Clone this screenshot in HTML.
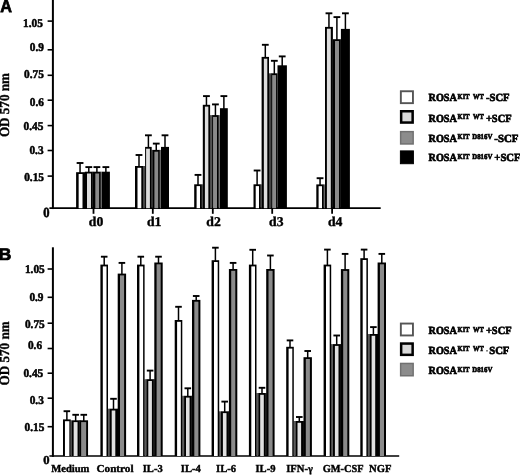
<!DOCTYPE html>
<html><head><meta charset="utf-8"><title>Figure</title>
<style>
html,body{margin:0;padding:0;background:#fff;}
body{width:520px;height:475px;overflow:hidden;font-family:"Liberation Serif",serif;}
svg{display:block;position:absolute;left:0;top:0;}
text{fill:#000;text-rendering:geometricPrecision;}
</style></head>
<body>
<svg width="520" height="475" viewBox="0 0 520 475">
<rect width="520" height="475" fill="#fff"/>
<defs><filter id="soft" x="0" y="0" width="520" height="475" filterUnits="userSpaceOnUse"><feGaussianBlur stdDeviation="0.4"/></filter></defs>
<g filter="url(#soft)">
<path d="M52.9 0V209.05" stroke="#000" stroke-width="2" fill="none"/>
<path d="M49.4 208.2H380.7" stroke="#000" stroke-width="1.7" fill="none"/>
<path d="M47.6 21.1H52.9" stroke="#000" stroke-width="1.6"/>
<text transform="translate(42.9 26.8) scale(1 1.05)" text-anchor="end" font-size="11.3" stroke="#000" stroke-width="0.5" font-family="Liberation Serif, serif" font-weight="bold" >1.05</text>
<path d="M47.6 49.8H52.9" stroke="#000" stroke-width="1.6"/>
<text transform="translate(43.9 51.3) scale(1 1.05)" text-anchor="end" font-size="11.3" stroke="#000" stroke-width="0.5" font-family="Liberation Serif, serif" font-weight="bold" >0.9</text>
<path d="M47.6 75.3H52.9" stroke="#000" stroke-width="1.6"/>
<text transform="translate(43.9 77.9) scale(1 1.05)" text-anchor="end" font-size="11.3" stroke="#000" stroke-width="0.5" font-family="Liberation Serif, serif" font-weight="bold" >0.75</text>
<path d="M47.6 100.2H52.9" stroke="#000" stroke-width="1.6"/>
<text transform="translate(43.9 105.5) scale(1 1.05)" text-anchor="end" font-size="11.3" stroke="#000" stroke-width="0.5" font-family="Liberation Serif, serif" font-weight="bold" >0.6</text>
<path d="M47.6 125.6H52.9" stroke="#000" stroke-width="1.6"/>
<text transform="translate(43.4 130.2) scale(1 1.05)" text-anchor="end" font-size="11.3" stroke="#000" stroke-width="0.5" font-family="Liberation Serif, serif" font-weight="bold" >0.45</text>
<path d="M47.6 150.5H52.9" stroke="#000" stroke-width="1.6"/>
<text transform="translate(43.6 154) scale(1 1.05)" text-anchor="end" font-size="11.3" stroke="#000" stroke-width="0.5" font-family="Liberation Serif, serif" font-weight="bold" >0.3</text>
<path d="M47.6 176.1H52.9" stroke="#000" stroke-width="1.6"/>
<text transform="translate(44 181.2) scale(1 1.05)" text-anchor="end" font-size="11.3" stroke="#000" stroke-width="0.5" font-family="Liberation Serif, serif" font-weight="bold" >0.15</text>
<text transform="translate(49.5 216.6) scale(1 1.11)" text-anchor="end" font-size="12.6" stroke="#000" stroke-width="0.5" font-family="Liberation Serif, serif" font-weight="bold" >0</text>
<path d="M80.05 173.20V163.00" stroke="#000" stroke-width="1.5" fill="none"/><path d="M76.65 163.00H83.45" stroke="#000" stroke-width="1.9" fill="none"/>
<path d="M88.80 172.70V167.10" stroke="#000" stroke-width="1.5" fill="none"/><path d="M85.40 167.10H92.20" stroke="#000" stroke-width="1.9" fill="none"/>
<path d="M96.90 172.70V167.10" stroke="#000" stroke-width="1.5" fill="none"/><path d="M93.50 167.10H100.30" stroke="#000" stroke-width="1.9" fill="none"/>
<path d="M105.88 172.70V167.10" stroke="#000" stroke-width="1.5" fill="none"/><path d="M102.47 167.10H109.28" stroke="#000" stroke-width="1.9" fill="none"/>
<rect x="83.80" y="172.20" width="1.20" height="36.00" fill="#000"/>
<rect x="92.60" y="171.70" width="0.60" height="36.50" fill="#000"/>
<rect x="100.60" y="171.70" width="1.45" height="36.50" fill="#777"/>
<rect x="76.10" y="172.20" width="7.90" height="36.00" fill="#000"/>
<rect x="78.65" y="174.00" width="3.85" height="34.20" fill="#fff"/>
<rect x="84.80" y="171.70" width="8.00" height="36.50" fill="#000"/>
<rect x="87.00" y="173.50" width="4.00" height="34.70" fill="#dcdcdc"/>
<rect x="93.00" y="171.70" width="7.80" height="36.50" fill="#000"/>
<rect x="95.30" y="173.50" width="3.80" height="34.70" fill="#8a8a8a"/>
<rect x="101.85" y="171.70" width="8.05" height="36.50" fill="#000"/>
<path d="M93.5 208.2V213.8" stroke="#000" stroke-width="1.8"/>
<text transform="translate(96.0 226.4) scale(1 0.98)" text-anchor="middle" font-size="13.7" stroke="#000" stroke-width="0.4" font-family="Liberation Serif, serif" font-weight="bold" >d0</text>
<path d="M139.00 167.00V155.00" stroke="#000" stroke-width="1.5" fill="none"/><path d="M135.60 155.00H142.40" stroke="#000" stroke-width="1.9" fill="none"/>
<path d="M148.40 147.90V135.30" stroke="#000" stroke-width="1.5" fill="none"/><path d="M145.00 135.30H151.80" stroke="#000" stroke-width="1.9" fill="none"/>
<path d="M156.25 150.90V143.60" stroke="#000" stroke-width="1.5" fill="none"/><path d="M152.85 143.60H159.65" stroke="#000" stroke-width="1.9" fill="none"/>
<path d="M165.00 147.90V135.30" stroke="#000" stroke-width="1.5" fill="none"/><path d="M161.60 135.30H168.40" stroke="#000" stroke-width="1.9" fill="none"/>
<rect x="142.80" y="166.00" width="2.50" height="42.20" fill="#444"/>
<rect x="151.50" y="149.90" width="1.40" height="58.30" fill="#333"/>
<rect x="159.60" y="149.90" width="1.60" height="58.30" fill="#666"/>
<rect x="135.00" y="166.00" width="8.00" height="42.20" fill="#000"/>
<rect x="137.50" y="167.80" width="3.80" height="40.40" fill="#fff"/>
<rect x="145.10" y="146.90" width="6.60" height="61.30" fill="#000"/>
<rect x="146.10" y="148.70" width="3.80" height="59.50" fill="#dcdcdc"/>
<rect x="152.70" y="149.90" width="7.10" height="58.30" fill="#000"/>
<rect x="154.40" y="151.70" width="3.80" height="56.50" fill="#8a8a8a"/>
<rect x="161.00" y="146.90" width="8.00" height="61.30" fill="#000"/>
<path d="M152.8 208.2V213.8" stroke="#000" stroke-width="1.8"/>
<text transform="translate(154.20000000000002 226.4) scale(1 0.98)" text-anchor="middle" font-size="13.7" stroke="#000" stroke-width="0.4" font-family="Liberation Serif, serif" font-weight="bold" >d1</text>
<path d="M198.00 185.30V174.90" stroke="#000" stroke-width="1.5" fill="none"/><path d="M194.60 174.90H201.40" stroke="#000" stroke-width="1.9" fill="none"/>
<path d="M206.45 105.80V96.10" stroke="#000" stroke-width="1.5" fill="none"/><path d="M203.05 96.10H209.85" stroke="#000" stroke-width="1.9" fill="none"/>
<path d="M215.43 116.10V104.40" stroke="#000" stroke-width="1.5" fill="none"/><path d="M212.03 104.40H218.83" stroke="#000" stroke-width="1.9" fill="none"/>
<path d="M223.88 109.20V96.10" stroke="#000" stroke-width="1.5" fill="none"/><path d="M220.47 96.10H227.28" stroke="#000" stroke-width="1.9" fill="none"/>
<rect x="201.60" y="184.30" width="1.40" height="23.90" fill="#555"/>
<rect x="209.90" y="115.10" width="2.40" height="93.10" fill="#555"/>
<rect x="218.55" y="115.10" width="1.60" height="93.10" fill="#777"/>
<rect x="194.20" y="184.30" width="7.60" height="23.90" fill="#000"/>
<rect x="196.60" y="186.10" width="3.40" height="22.10" fill="#fff"/>
<rect x="202.80" y="104.80" width="7.30" height="103.40" fill="#000"/>
<rect x="204.90" y="106.60" width="3.45" height="101.60" fill="#dcdcdc"/>
<rect x="212.10" y="115.10" width="6.65" height="93.10" fill="#000"/>
<rect x="213.05" y="116.90" width="3.95" height="91.30" fill="#8a8a8a"/>
<rect x="219.95" y="108.20" width="7.85" height="100.00" fill="#000"/>
<path d="M212.8 208.2V213.8" stroke="#000" stroke-width="1.8"/>
<text transform="translate(213.60000000000002 226.4) scale(1 0.98)" text-anchor="middle" font-size="13.7" stroke="#000" stroke-width="0.4" font-family="Liberation Serif, serif" font-weight="bold" >d2</text>
<path d="M257.10 185.30V170.50" stroke="#000" stroke-width="1.5" fill="none"/><path d="M253.70 170.50H260.50" stroke="#000" stroke-width="1.9" fill="none"/>
<path d="M265.30 57.90V44.80" stroke="#000" stroke-width="1.5" fill="none"/><path d="M261.90 44.80H268.70" stroke="#000" stroke-width="1.9" fill="none"/>
<path d="M274.32 74.30V60.80" stroke="#000" stroke-width="1.5" fill="none"/><path d="M270.93 60.80H277.72" stroke="#000" stroke-width="1.9" fill="none"/>
<path d="M282.20 66.30V56.40" stroke="#000" stroke-width="1.5" fill="none"/><path d="M278.80 56.40H285.60" stroke="#000" stroke-width="1.9" fill="none"/>
<rect x="260.50" y="184.30" width="1.30" height="23.90" fill="#555"/>
<rect x="268.80" y="73.30" width="2.55" height="134.90" fill="#444"/>
<rect x="253.50" y="184.30" width="7.20" height="23.90" fill="#000"/>
<rect x="255.70" y="186.10" width="3.30" height="22.10" fill="#fff"/>
<rect x="261.60" y="56.90" width="7.40" height="151.30" fill="#000"/>
<rect x="263.85" y="58.70" width="3.45" height="149.50" fill="#dcdcdc"/>
<rect x="271.15" y="73.30" width="6.35" height="134.90" fill="#000"/>
<rect x="272.20" y="75.10" width="3.90" height="133.10" fill="#8a8a8a"/>
<rect x="277.50" y="65.30" width="9.40" height="142.90" fill="#000"/>
<path d="M272.2 208.2V213.8" stroke="#000" stroke-width="1.8"/>
<text transform="translate(276.3 226.4) scale(1 0.98)" text-anchor="middle" font-size="13.7" stroke="#000" stroke-width="0.4" font-family="Liberation Serif, serif" font-weight="bold" >d3</text>
<path d="M320.05 185.40V178.20" stroke="#000" stroke-width="1.5" fill="none"/><path d="M316.65 178.20H323.45" stroke="#000" stroke-width="1.9" fill="none"/>
<path d="M328.95 27.90V13.30" stroke="#000" stroke-width="1.5" fill="none"/><path d="M325.55 13.30H332.35" stroke="#000" stroke-width="1.9" fill="none"/>
<path d="M336.90 40.20V17.10" stroke="#000" stroke-width="1.5" fill="none"/><path d="M333.50 17.10H340.30" stroke="#000" stroke-width="1.9" fill="none"/>
<path d="M345.40 29.90V13.30" stroke="#000" stroke-width="1.5" fill="none"/><path d="M342.00 13.30H348.80" stroke="#000" stroke-width="1.9" fill="none"/>
<rect x="323.60" y="184.40" width="1.60" height="23.80" fill="#666"/>
<rect x="316.30" y="184.40" width="7.50" height="23.80" fill="#000"/>
<rect x="318.60" y="186.20" width="3.40" height="22.00" fill="#fff"/>
<rect x="325.00" y="26.90" width="7.90" height="181.30" fill="#000"/>
<rect x="326.90" y="28.70" width="3.90" height="179.50" fill="#dcdcdc"/>
<rect x="332.90" y="39.20" width="8.00" height="169.00" fill="#000"/>
<rect x="335.00" y="41.00" width="4.00" height="167.20" fill="#8a8a8a"/>
<rect x="340.90" y="28.90" width="9.00" height="179.30" fill="#000"/>
<path d="M332.1 208.2V213.8" stroke="#000" stroke-width="1.8"/>
<text transform="translate(335.20000000000005 226.4) scale(1 0.98)" text-anchor="middle" font-size="13.7" stroke="#000" stroke-width="0.4" font-family="Liberation Serif, serif" font-weight="bold" >d4</text>
<text transform="translate(0.3 12.35) scale(1 1.08)" text-anchor="start" font-size="16.2" stroke="#000" stroke-width="0.7" font-family="Liberation Sans, sans-serif" font-weight="bold" >A</text>
<text transform="translate(-1.4 259.95) scale(1.1 1.04)" text-anchor="start" font-size="16.2" stroke="#000" stroke-width="0.7" font-family="Liberation Sans, sans-serif" font-weight="bold" >B</text>
<text transform="translate(9.1 105.1) rotate(-90) scale(1 1.06)" text-anchor="middle" font-size="13.1" stroke="#000" stroke-width="0.35" font-family="Liberation Serif, serif" font-weight="bold">OD 570 nm</text>
<text transform="translate(9.1 353.4) rotate(-90) scale(1 1.06)" text-anchor="middle" font-size="13.1" stroke="#000" stroke-width="0.35" font-family="Liberation Serif, serif" font-weight="bold">OD 570 nm</text>
<path d="M52.9 247.3V456.85" stroke="#000" stroke-width="2" fill="none"/>
<path d="M49.4 456.0H399.2" stroke="#000" stroke-width="1.7" fill="none"/>
<path d="M47.6 269.0H52.9" stroke="#000" stroke-width="1.6"/>
<text transform="translate(44.7 272.8) scale(1 1.05)" text-anchor="end" font-size="11.3" stroke="#000" stroke-width="0.5" font-family="Liberation Serif, serif" font-weight="bold" >1.05</text>
<path d="M47.6 297.3H52.9" stroke="#000" stroke-width="1.6"/>
<text transform="translate(43.5 300.5) scale(1 1.05)" text-anchor="end" font-size="11.3" stroke="#000" stroke-width="0.5" font-family="Liberation Serif, serif" font-weight="bold" >0.9</text>
<path d="M47.6 323.2H52.9" stroke="#000" stroke-width="1.6"/>
<text transform="translate(44.7 327.5) scale(1 1.05)" text-anchor="end" font-size="11.3" stroke="#000" stroke-width="0.5" font-family="Liberation Serif, serif" font-weight="bold" >0.75</text>
<path d="M47.6 348.5H52.9" stroke="#000" stroke-width="1.6"/>
<text transform="translate(42.1 348.9) scale(1 1.05)" text-anchor="end" font-size="11.3" stroke="#000" stroke-width="0.5" font-family="Liberation Serif, serif" font-weight="bold" >0.6</text>
<path d="M47.6 373.2H52.9" stroke="#000" stroke-width="1.6"/>
<text transform="translate(43.2 376.7) scale(1 1.05)" text-anchor="end" font-size="11.3" stroke="#000" stroke-width="0.5" font-family="Liberation Serif, serif" font-weight="bold" >0.45</text>
<path d="M47.6 398.2H52.9" stroke="#000" stroke-width="1.6"/>
<text transform="translate(43.8 403.5) scale(1 1.05)" text-anchor="end" font-size="11.3" stroke="#000" stroke-width="0.5" font-family="Liberation Serif, serif" font-weight="bold" >0.3</text>
<path d="M47.6 426.7H52.9" stroke="#000" stroke-width="1.6"/>
<text transform="translate(44.3 430.8) scale(1 1.05)" text-anchor="end" font-size="11.3" stroke="#000" stroke-width="0.5" font-family="Liberation Serif, serif" font-weight="bold" >0.15</text>
<text transform="translate(49.6 464.3) scale(1 0.97)" text-anchor="end" font-size="12.6" stroke="#000" stroke-width="0.5" font-family="Liberation Serif, serif" font-weight="bold" >0</text>
<path d="M66.88 420.40V411.20" stroke="#000" stroke-width="1.5" fill="none"/><path d="M63.58 411.20H70.17" stroke="#000" stroke-width="1.9" fill="none"/>
<path d="M75.65 421.30V414.80" stroke="#000" stroke-width="1.5" fill="none"/><path d="M72.35 414.80H78.95" stroke="#000" stroke-width="1.9" fill="none"/>
<path d="M83.78 421.30V414.80" stroke="#000" stroke-width="1.5" fill="none"/><path d="M80.48 414.80H87.08" stroke="#000" stroke-width="1.9" fill="none"/>
<rect x="70.60" y="420.30" width="1.4" height="35.70" fill="#5c5c5c"/>
<rect x="79.40" y="420.30" width="1.2" height="35.70" fill="#000"/>
<rect x="63.00" y="419.40" width="7.75" height="36.60" fill="#000"/>
<rect x="64.95" y="421.20" width="4.40" height="34.80" fill="#fff"/>
<rect x="71.80" y="420.30" width="7.70" height="35.70" fill="#000"/>
<rect x="73.65" y="422.10" width="3.90" height="33.90" fill="#e0e0e0"/>
<rect x="79.50" y="420.30" width="8.55" height="35.70" fill="#000"/>
<rect x="81.15" y="422.10" width="5.00" height="33.90" fill="#8a8a8a"/>
<text transform="translate(70.3 472.3) scale(1 1.0)" text-anchor="middle" font-size="10.6" stroke="#000" stroke-width="0.4" font-family="Liberation Serif, serif" font-weight="bold" >Medium</text>
<path d="M104.20 265.60V256.70" stroke="#000" stroke-width="1.5" fill="none"/><path d="M100.90 256.70H107.50" stroke="#000" stroke-width="1.9" fill="none"/>
<path d="M113.50 409.70V398.80" stroke="#000" stroke-width="1.5" fill="none"/><path d="M110.20 398.80H116.80" stroke="#000" stroke-width="1.9" fill="none"/>
<path d="M121.90 274.60V262.90" stroke="#000" stroke-width="1.5" fill="none"/><path d="M118.60 262.90H125.20" stroke="#000" stroke-width="1.9" fill="none"/>
<rect x="107.80" y="408.70" width="2.2" height="47.30" fill="#5c5c5c"/>
<rect x="116.90" y="408.70" width="1.2" height="47.30" fill="#000"/>
<rect x="100.40" y="264.60" width="7.60" height="191.40" fill="#000"/>
<rect x="102.80" y="266.40" width="3.70" height="189.60" fill="#fff"/>
<rect x="109.80" y="408.70" width="7.40" height="47.30" fill="#000"/>
<rect x="111.70" y="410.50" width="3.60" height="45.50" fill="#e0e0e0"/>
<rect x="117.70" y="273.60" width="8.40" height="182.40" fill="#000"/>
<rect x="120.00" y="275.40" width="4.10" height="180.60" fill="#8a8a8a"/>
<text transform="translate(115.0 472.3) scale(1.055 1.0)" text-anchor="middle" font-size="10.6" stroke="#000" stroke-width="0.4" font-family="Liberation Serif, serif" font-weight="bold" >Control</text>
<path d="M140.80 265.60V256.70" stroke="#000" stroke-width="1.5" fill="none"/><path d="M137.50 256.70H144.10" stroke="#000" stroke-width="1.9" fill="none"/>
<path d="M150.10 380.20V370.60" stroke="#000" stroke-width="1.5" fill="none"/><path d="M146.80 370.60H153.40" stroke="#000" stroke-width="1.9" fill="none"/>
<path d="M158.50 263.50V256.70" stroke="#000" stroke-width="1.5" fill="none"/><path d="M155.20 256.70H161.80" stroke="#000" stroke-width="1.9" fill="none"/>
<rect x="144.40" y="379.20" width="2.2" height="76.80" fill="#5c5c5c"/>
<rect x="153.50" y="379.20" width="1.2" height="76.80" fill="#000"/>
<rect x="137.00" y="264.60" width="7.60" height="191.40" fill="#000"/>
<rect x="139.40" y="266.40" width="3.70" height="189.60" fill="#fff"/>
<rect x="146.40" y="379.20" width="7.40" height="76.80" fill="#000"/>
<rect x="148.30" y="381.00" width="3.60" height="75.00" fill="#e0e0e0"/>
<rect x="154.30" y="262.50" width="8.40" height="193.50" fill="#000"/>
<rect x="156.60" y="264.30" width="4.10" height="191.70" fill="#8a8a8a"/>
<text transform="translate(152.7 472.3) scale(1 1.0)" text-anchor="middle" font-size="10.6" stroke="#000" stroke-width="0.4" font-family="Liberation Serif, serif" font-weight="bold" >IL-3</text>
<path d="M178.50 321.00V306.80" stroke="#000" stroke-width="1.5" fill="none"/><path d="M175.20 306.80H181.80" stroke="#000" stroke-width="1.9" fill="none"/>
<path d="M187.80 396.80V388.30" stroke="#000" stroke-width="1.5" fill="none"/><path d="M184.50 388.30H191.10" stroke="#000" stroke-width="1.9" fill="none"/>
<path d="M196.20 300.90V296.00" stroke="#000" stroke-width="1.5" fill="none"/><path d="M192.90 296.00H199.50" stroke="#000" stroke-width="1.9" fill="none"/>
<rect x="182.10" y="395.80" width="2.2" height="60.20" fill="#5c5c5c"/>
<rect x="191.20" y="395.80" width="1.2" height="60.20" fill="#000"/>
<rect x="174.70" y="320.00" width="7.60" height="136.00" fill="#000"/>
<rect x="177.10" y="321.80" width="3.70" height="134.20" fill="#fff"/>
<rect x="184.10" y="395.80" width="7.40" height="60.20" fill="#000"/>
<rect x="186.00" y="397.60" width="3.60" height="58.40" fill="#e0e0e0"/>
<rect x="192.00" y="299.90" width="8.40" height="156.10" fill="#000"/>
<rect x="194.30" y="301.70" width="4.10" height="154.30" fill="#8a8a8a"/>
<text transform="translate(190.8 472.3) scale(1 1.0)" text-anchor="middle" font-size="10.6" stroke="#000" stroke-width="0.4" font-family="Liberation Serif, serif" font-weight="bold" >IL-4</text>
<path d="M215.40 261.20V247.70" stroke="#000" stroke-width="1.5" fill="none"/><path d="M212.10 247.70H218.70" stroke="#000" stroke-width="1.9" fill="none"/>
<path d="M224.70 412.30V401.60" stroke="#000" stroke-width="1.5" fill="none"/><path d="M221.40 401.60H228.00" stroke="#000" stroke-width="1.9" fill="none"/>
<path d="M233.10 270.00V262.90" stroke="#000" stroke-width="1.5" fill="none"/><path d="M229.80 262.90H236.40" stroke="#000" stroke-width="1.9" fill="none"/>
<rect x="219.00" y="411.30" width="2.2" height="44.70" fill="#5c5c5c"/>
<rect x="228.10" y="411.30" width="1.2" height="44.70" fill="#000"/>
<rect x="211.60" y="260.20" width="7.60" height="195.80" fill="#000"/>
<rect x="214.00" y="262.00" width="3.70" height="194.00" fill="#fff"/>
<rect x="221.00" y="411.30" width="7.40" height="44.70" fill="#000"/>
<rect x="222.90" y="413.10" width="3.60" height="42.90" fill="#e0e0e0"/>
<rect x="228.90" y="269.00" width="8.40" height="187.00" fill="#000"/>
<rect x="231.20" y="270.80" width="4.10" height="185.20" fill="#8a8a8a"/>
<text transform="translate(226.1 472.3) scale(1 1.0)" text-anchor="middle" font-size="10.6" stroke="#000" stroke-width="0.4" font-family="Liberation Serif, serif" font-weight="bold" >IL-6</text>
<path d="M252.70 265.60V249.80" stroke="#000" stroke-width="1.5" fill="none"/><path d="M249.40 249.80H256.00" stroke="#000" stroke-width="1.9" fill="none"/>
<path d="M262.00 394.00V387.80" stroke="#000" stroke-width="1.5" fill="none"/><path d="M258.70 387.80H265.30" stroke="#000" stroke-width="1.9" fill="none"/>
<path d="M270.40 270.00V255.50" stroke="#000" stroke-width="1.5" fill="none"/><path d="M267.10 255.50H273.70" stroke="#000" stroke-width="1.9" fill="none"/>
<rect x="256.30" y="393.00" width="2.2" height="63.00" fill="#5c5c5c"/>
<rect x="265.40" y="393.00" width="1.2" height="63.00" fill="#000"/>
<rect x="248.90" y="264.60" width="7.60" height="191.40" fill="#000"/>
<rect x="251.30" y="266.40" width="3.70" height="189.60" fill="#fff"/>
<rect x="258.30" y="393.00" width="7.40" height="63.00" fill="#000"/>
<rect x="260.20" y="394.80" width="3.60" height="61.20" fill="#e0e0e0"/>
<rect x="266.20" y="269.00" width="8.40" height="187.00" fill="#000"/>
<rect x="268.50" y="270.80" width="4.10" height="185.20" fill="#8a8a8a"/>
<text transform="translate(265.5 472.3) scale(1 1.0)" text-anchor="middle" font-size="10.6" stroke="#000" stroke-width="0.4" font-family="Liberation Serif, serif" font-weight="bold" >IL-9</text>
<path d="M290.00 347.80V340.40" stroke="#000" stroke-width="1.5" fill="none"/><path d="M286.70 340.40H293.30" stroke="#000" stroke-width="1.9" fill="none"/>
<path d="M299.30 422.00V417.00" stroke="#000" stroke-width="1.5" fill="none"/><path d="M296.00 417.00H302.60" stroke="#000" stroke-width="1.9" fill="none"/>
<path d="M307.70 358.20V351.00" stroke="#000" stroke-width="1.5" fill="none"/><path d="M304.40 351.00H311.00" stroke="#000" stroke-width="1.9" fill="none"/>
<rect x="293.60" y="421.00" width="2.2" height="35.00" fill="#5c5c5c"/>
<rect x="302.70" y="421.00" width="1.2" height="35.00" fill="#000"/>
<rect x="286.20" y="346.80" width="7.60" height="109.20" fill="#000"/>
<rect x="288.60" y="348.60" width="3.70" height="107.40" fill="#fff"/>
<rect x="295.60" y="421.00" width="7.40" height="35.00" fill="#000"/>
<rect x="297.50" y="422.80" width="3.60" height="33.20" fill="#e0e0e0"/>
<rect x="303.50" y="357.20" width="8.40" height="98.80" fill="#000"/>
<rect x="305.80" y="359.00" width="4.10" height="97.00" fill="#8a8a8a"/>
<text transform="translate(299.5 472.3) scale(1 1.0)" text-anchor="middle" font-size="10.6" stroke="#000" stroke-width="0.4" font-family="Liberation Serif, serif" font-weight="bold" >IFN-γ</text>
<path d="M327.40 265.60V249.60" stroke="#000" stroke-width="1.5" fill="none"/><path d="M324.10 249.60H330.70" stroke="#000" stroke-width="1.9" fill="none"/>
<path d="M336.70 345.10V335.50" stroke="#000" stroke-width="1.5" fill="none"/><path d="M333.40 335.50H340.00" stroke="#000" stroke-width="1.9" fill="none"/>
<path d="M345.10 270.10V253.90" stroke="#000" stroke-width="1.5" fill="none"/><path d="M341.80 253.90H348.40" stroke="#000" stroke-width="1.9" fill="none"/>
<rect x="331.00" y="344.10" width="2.2" height="111.90" fill="#5c5c5c"/>
<rect x="340.10" y="344.10" width="1.2" height="111.90" fill="#000"/>
<rect x="323.60" y="264.60" width="7.60" height="191.40" fill="#000"/>
<rect x="326.00" y="266.40" width="3.70" height="189.60" fill="#fff"/>
<rect x="333.00" y="344.10" width="7.40" height="111.90" fill="#000"/>
<rect x="334.90" y="345.90" width="3.60" height="110.10" fill="#e0e0e0"/>
<rect x="340.90" y="269.10" width="8.40" height="186.90" fill="#000"/>
<rect x="343.20" y="270.90" width="4.10" height="185.10" fill="#8a8a8a"/>
<text transform="translate(343.2 472.3) scale(0.975 1.0)" text-anchor="middle" font-size="10.6" stroke="#000" stroke-width="0.4" font-family="Liberation Serif, serif" font-weight="bold" >GM-CSF</text>
<path d="M364.10 259.20V249.60" stroke="#000" stroke-width="1.5" fill="none"/><path d="M360.80 249.60H367.40" stroke="#000" stroke-width="1.9" fill="none"/>
<path d="M373.40 335.00V327.10" stroke="#000" stroke-width="1.5" fill="none"/><path d="M370.10 327.10H376.70" stroke="#000" stroke-width="1.9" fill="none"/>
<path d="M381.80 263.50V253.90" stroke="#000" stroke-width="1.5" fill="none"/><path d="M378.50 253.90H385.10" stroke="#000" stroke-width="1.9" fill="none"/>
<rect x="367.70" y="334.00" width="2.2" height="122.00" fill="#5c5c5c"/>
<rect x="376.80" y="334.00" width="1.2" height="122.00" fill="#000"/>
<rect x="360.30" y="258.20" width="7.60" height="197.80" fill="#000"/>
<rect x="362.70" y="260.00" width="3.70" height="196.00" fill="#fff"/>
<rect x="369.70" y="334.00" width="7.40" height="122.00" fill="#000"/>
<rect x="371.60" y="335.80" width="3.60" height="120.20" fill="#e0e0e0"/>
<rect x="377.60" y="262.50" width="8.40" height="193.50" fill="#000"/>
<rect x="379.90" y="264.30" width="4.10" height="191.70" fill="#8a8a8a"/>
<text transform="translate(380.3 472.3) scale(1 1.0)" text-anchor="middle" font-size="10.6" stroke="#000" stroke-width="0.4" font-family="Liberation Serif, serif" font-weight="bold" >NGF</text>
<rect x="400.84999999999997" y="91.25" width="12.1" height="11.9" fill="#fff" stroke="#555" stroke-width="1.9"/>
<text transform="translate(428.5 101.4) scale(1 1.06)" font-size="10.3" textLength="28.40" lengthAdjust="spacingAndGlyphs" stroke="#000" stroke-width="0.62" font-family="Liberation Serif, serif" font-weight="bold">ROSA</text>
<text transform="translate(457.6 98.7) scale(1 0.93)" font-size="7.9" textLength="11.90" lengthAdjust="spacingAndGlyphs" stroke="#000" stroke-width="0.7" font-family="Liberation Serif, serif" font-weight="bold">KIT</text>
<text transform="translate(473.0 98.7) scale(1 0.93)" font-size="7.9" textLength="10.70" lengthAdjust="spacingAndGlyphs" stroke="#000" stroke-width="0.7" font-family="Liberation Serif, serif" font-weight="bold">WT</text>
<text transform="translate(485.9 101.4) scale(1 1.06)" font-size="10.3" textLength="23.70" lengthAdjust="spacingAndGlyphs" stroke="#000" stroke-width="0.62" font-family="Liberation Serif, serif" font-weight="bold">-SCF</text>
<rect x="401.15" y="111.25" width="11.5" height="11.3" fill="#d9d9d9" stroke="#000" stroke-width="2.5"/>
<text transform="translate(428.5 121.8) scale(1 1.06)" font-size="10.3" textLength="28.40" lengthAdjust="spacingAndGlyphs" stroke="#000" stroke-width="0.62" font-family="Liberation Serif, serif" font-weight="bold">ROSA</text>
<text transform="translate(457.6 119.1) scale(1 0.93)" font-size="7.9" textLength="11.90" lengthAdjust="spacingAndGlyphs" stroke="#000" stroke-width="0.7" font-family="Liberation Serif, serif" font-weight="bold">KIT</text>
<text transform="translate(473.0 119.1) scale(1 0.93)" font-size="7.9" textLength="10.70" lengthAdjust="spacingAndGlyphs" stroke="#000" stroke-width="0.7" font-family="Liberation Serif, serif" font-weight="bold">WT</text>
<text transform="translate(485.9 121.8) scale(1 1.06)" font-size="10.3" textLength="25.70" lengthAdjust="spacingAndGlyphs" stroke="#000" stroke-width="0.62" font-family="Liberation Serif, serif" font-weight="bold">+SCF</text>
<rect x="400.65" y="131.65" width="12.5" height="12.3" fill="#8c8c8c" stroke="#707070" stroke-width="1.5"/>
<text transform="translate(428.5 141.9) scale(1 1.06)" font-size="10.3" textLength="28.40" lengthAdjust="spacingAndGlyphs" stroke="#000" stroke-width="0.62" font-family="Liberation Serif, serif" font-weight="bold">ROSA</text>
<text transform="translate(457.6 139.20000000000002) scale(1 0.93)" font-size="7.9" textLength="11.90" lengthAdjust="spacingAndGlyphs" stroke="#000" stroke-width="0.7" font-family="Liberation Serif, serif" font-weight="bold">KIT</text>
<text transform="translate(472.3 139.20000000000002) scale(1 0.93)" font-size="7.9" textLength="20.00" lengthAdjust="spacingAndGlyphs" stroke="#000" stroke-width="0.7" font-family="Liberation Serif, serif" font-weight="bold">D816V</text>
<text transform="translate(494.3 141.9) scale(1 1.06)" font-size="10.3" textLength="24.10" lengthAdjust="spacingAndGlyphs" stroke="#000" stroke-width="0.62" font-family="Liberation Serif, serif" font-weight="bold">-SCF</text>
<rect x="400.4" y="150.9" width="13.0" height="12.8" fill="#000" stroke="#000" stroke-width="1.0"/>
<text transform="translate(428.5 161.3) scale(1 1.06)" font-size="10.3" textLength="28.40" lengthAdjust="spacingAndGlyphs" stroke="#000" stroke-width="0.62" font-family="Liberation Serif, serif" font-weight="bold">ROSA</text>
<text transform="translate(457.6 158.60000000000002) scale(1 0.93)" font-size="7.9" textLength="11.90" lengthAdjust="spacingAndGlyphs" stroke="#000" stroke-width="0.7" font-family="Liberation Serif, serif" font-weight="bold">KIT</text>
<text transform="translate(472.3 158.60000000000002) scale(1 0.93)" font-size="7.9" textLength="20.00" lengthAdjust="spacingAndGlyphs" stroke="#000" stroke-width="0.7" font-family="Liberation Serif, serif" font-weight="bold">D816V</text>
<text transform="translate(494.3 161.3) scale(1 1.06)" font-size="10.3" textLength="26.30" lengthAdjust="spacingAndGlyphs" stroke="#000" stroke-width="0.62" font-family="Liberation Serif, serif" font-weight="bold">+SCF</text>
<rect x="400.84999999999997" y="323.55" width="12.1" height="11.9" fill="#fff" stroke="#555" stroke-width="1.9"/>
<text transform="translate(428.5 334.2) scale(1 1.06)" font-size="10.3" textLength="28.40" lengthAdjust="spacingAndGlyphs" stroke="#000" stroke-width="0.62" font-family="Liberation Serif, serif" font-weight="bold">ROSA</text>
<text transform="translate(457.6 331.5) scale(1 0.93)" font-size="7.9" textLength="11.90" lengthAdjust="spacingAndGlyphs" stroke="#000" stroke-width="0.7" font-family="Liberation Serif, serif" font-weight="bold">KIT</text>
<text transform="translate(473.0 331.5) scale(1 0.93)" font-size="7.9" textLength="10.70" lengthAdjust="spacingAndGlyphs" stroke="#000" stroke-width="0.7" font-family="Liberation Serif, serif" font-weight="bold">WT</text>
<text transform="translate(485.9 334.2) scale(1 1.06)" font-size="10.3" textLength="25.70" lengthAdjust="spacingAndGlyphs" stroke="#000" stroke-width="0.62" font-family="Liberation Serif, serif" font-weight="bold">+SCF</text>
<rect x="401.15" y="343.55" width="11.5" height="11.3" fill="#d9d9d9" stroke="#000" stroke-width="2.5"/>
<text transform="translate(428.5 353.8) scale(1 1.06)" font-size="10.3" textLength="28.40" lengthAdjust="spacingAndGlyphs" stroke="#000" stroke-width="0.62" font-family="Liberation Serif, serif" font-weight="bold">ROSA</text>
<text transform="translate(457.6 351.1) scale(1 0.93)" font-size="7.9" textLength="11.90" lengthAdjust="spacingAndGlyphs" stroke="#000" stroke-width="0.7" font-family="Liberation Serif, serif" font-weight="bold">KIT</text>
<text transform="translate(473.0 351.1) scale(1 0.93)" font-size="7.9" textLength="10.70" lengthAdjust="spacingAndGlyphs" stroke="#000" stroke-width="0.7" font-family="Liberation Serif, serif" font-weight="bold">WT</text>
<rect x="486.2" y="350.3" width="1.6" height="1.1" fill="#222"/>
<text transform="translate(489.2 353.8) scale(1 1.06)" font-size="10.3" textLength="20.20" lengthAdjust="spacingAndGlyphs" stroke="#000" stroke-width="0.62" font-family="Liberation Serif, serif" font-weight="bold">SCF</text>
<rect x="400.65" y="363.45000000000005" width="12.5" height="12.3" fill="#8c8c8c" stroke="#707070" stroke-width="1.5"/>
<text transform="translate(428.5 374.2) scale(1 1.06)" font-size="10.3" textLength="28.40" lengthAdjust="spacingAndGlyphs" stroke="#000" stroke-width="0.62" font-family="Liberation Serif, serif" font-weight="bold">ROSA</text>
<text transform="translate(457.6 371.5) scale(1 0.93)" font-size="7.9" textLength="11.90" lengthAdjust="spacingAndGlyphs" stroke="#000" stroke-width="0.7" font-family="Liberation Serif, serif" font-weight="bold">KIT</text>
<text transform="translate(472.3 371.5) scale(1 0.93)" font-size="7.9" textLength="20.00" lengthAdjust="spacingAndGlyphs" stroke="#000" stroke-width="0.7" font-family="Liberation Serif, serif" font-weight="bold">D816V</text>
</g>
</svg>
</body></html>
